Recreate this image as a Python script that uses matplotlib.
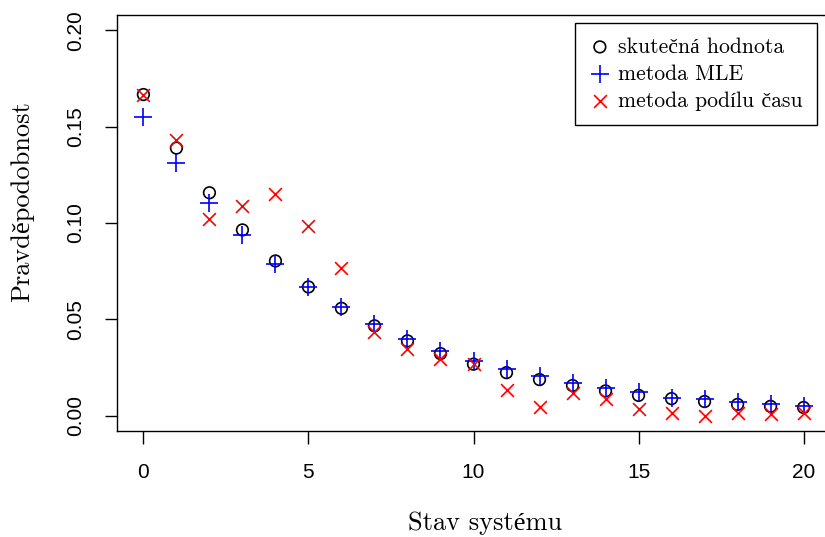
import matplotlib
matplotlib.use('Agg')
import matplotlib.pyplot as plt

stavy = list(range(21))
skutecna = [0.1667, 0.1389, 0.1157, 0.0964, 0.0803, 0.0668, 0.0557, 0.0466, 0.0388, 0.0322,
            0.0267, 0.0223, 0.0187, 0.0156, 0.0128, 0.0105, 0.0088, 0.0073, 0.0058, 0.0048, 0.0042]
mle = [0.1550, 0.1310, 0.1106, 0.0938, 0.0788, 0.0668, 0.0564, 0.0474, 0.0400, 0.0335,
       0.0286, 0.0243, 0.0203, 0.0170, 0.0144, 0.0120, 0.0092, 0.0085, 0.0073, 0.0061, 0.0052]
podil_casu = [0.1667, 0.1432, 0.1019, 0.1090, 0.1150, 0.0986, 0.0766, 0.0432, 0.0347, 0.0292,
              0.0266, 0.0135, 0.0043, 0.0118, 0.0087, 0.0035, 0.0012, 0.0000, 0.0014, 0.0009, 0.0016]

serif = ['cmr10', 'Liberation Serif']
sans = ['Liberation Sans', 'DejaVu Sans']

fig = plt.figure(figsize=(8.25, 5.37), dpi=100)
ax = fig.add_axes([117 / 825, 1 - 431 / 537, 713 / 825, 416 / 537])

ax.scatter(stavy, skutecna, s=70, facecolors='none', edgecolors='black', linewidths=1.2,
           label='skutečná hodnota', zorder=3)
ax.scatter(stavy, mle, s=170, marker='+', color='#0000ff', linewidths=1.2,
           label='metoda MLE', zorder=3)
ax.scatter(stavy, podil_casu, s=85, marker='x', color='#ff0000', linewidths=1.2,
           label='metoda podílu času', zorder=3)

ax.set_xlim(-0.8, 20.8)
ax.set_ylim(-0.008, 0.208)
ax.set_xticks([0, 5, 10, 15, 20])
ax.set_yticks([0.0, 0.05, 0.10, 0.15, 0.20])
ax.set_yticklabels(['0.00', '0.05', '0.10', '0.15', '0.20'], rotation=90, va='center')
ax.tick_params(length=9, width=1, labelsize=15, pad=14)
for lab in ax.get_xticklabels() + ax.get_yticklabels():
    lab.set_family(sans)
for sp in ax.spines.values():
    sp.set_linewidth(1)

ax.set_xlabel('Stav systému', family=serif, fontsize=19)
ax.set_ylabel('Pravděpodobnost', family=serif, fontsize=19)
ax.xaxis.set_label_coords(485 / 825, 1 - 523 / 537, transform=fig.transFigure)
ax.yaxis.set_label_coords(22 / 825, 1 - 202 / 537, transform=fig.transFigure)
ax.xaxis.label.set_va('center')
ax.yaxis.label.set_va('center')

leg = ax.legend(loc='upper right', bbox_to_anchor=(817 / 825, 1 - 23 / 537),
                bbox_transform=fig.transFigure, fancybox=False, edgecolor='black',
                framealpha=1, borderaxespad=0, handletextpad=0.35, borderpad=0.65,
                labelspacing=0.35, handlelength=1.0, prop={'family': serif, 'size': 15.6})
leg.get_frame().set_linewidth(1)

fig.savefig('out.png', dpi=100)
